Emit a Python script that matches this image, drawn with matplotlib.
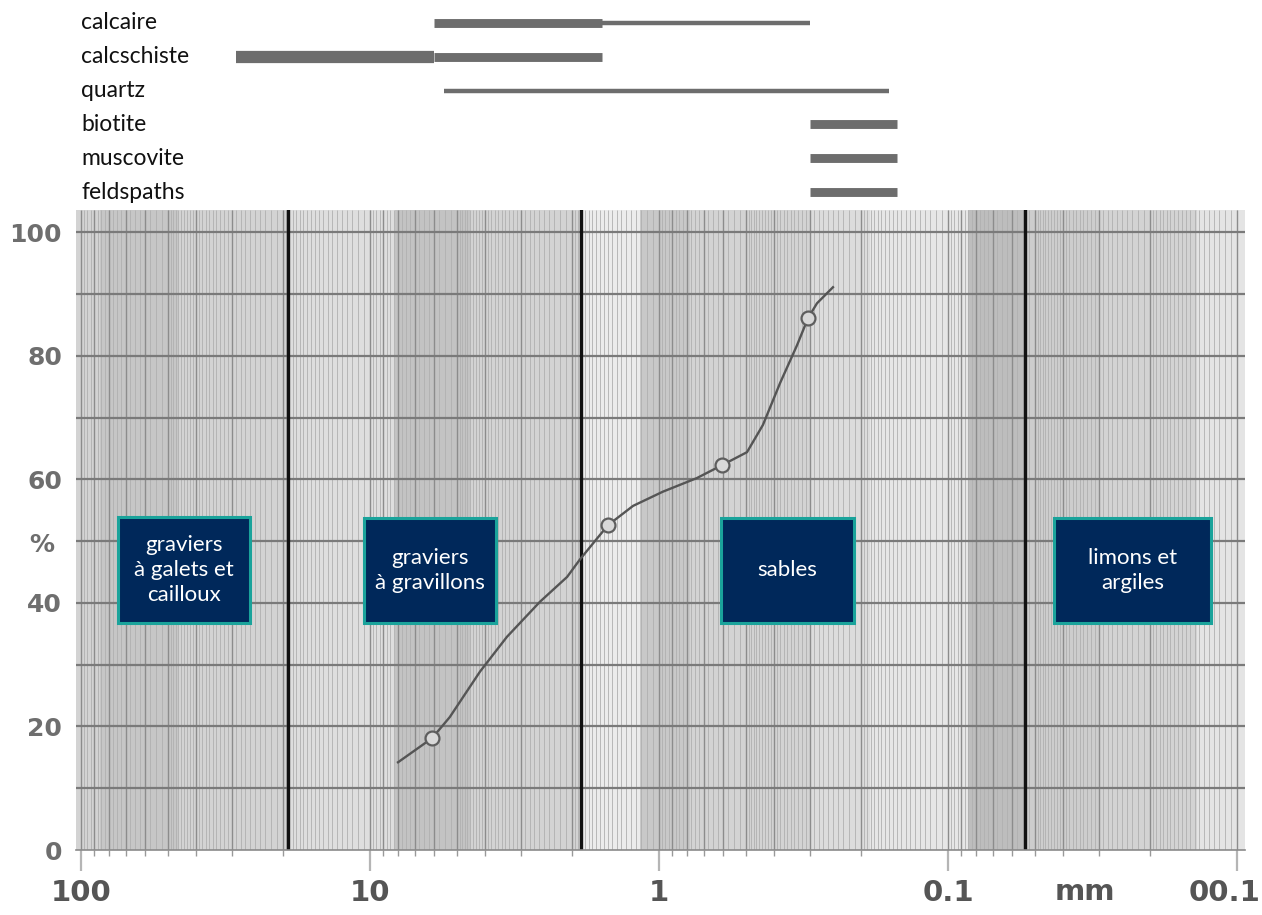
import numpy as np
import matplotlib.pyplot as plt
from matplotlib.patches import Rectangle
from matplotlib.transforms import ScaledTranslation

# grain size curve (mm, % passing)
size_mm = [8.0, 6.1, 5.3, 4.16, 3.36, 2.58, 2.08, 1.88, 1.64, 1.50, 1.23,
           0.97, 0.74, 0.605, 0.496, 0.437, 0.381, 0.333, 0.305, 0.284, 0.25]
passing = [14.2, 18.1, 21.5, 28.9, 34.5, 40.2, 44.2, 47.0, 50.4, 52.6, 55.7,
           58.0, 60.2, 62.3, 64.4, 68.8, 75.6, 81.7, 86.1, 88.5, 91.1]
sample_mm = [6.1, 1.50, 0.605, 0.305]
sample_pct = [18.1, 52.6, 62.3, 86.1]

# class limits (mm, as drawn on the sheet) and class names
limits_mm = [19.2, 1.86, 0.054]
zones = ['graviers\nà galets et\ncailloux', 'graviers\nà gravillons', 'sables',
         'limons et\nargiles']

# minerals found in each size range
minerals = ['calcaire', 'calcschiste', 'quartz', 'biotite', 'muscovite', 'feldspaths']
seg_mineral = ['calcaire', 'calcaire', 'calcschiste', 'calcschiste', 'quartz',
               'biotite', 'muscovite', 'feldspaths']
seg_from = [6.0, 1.57, 29.0, 6.0, 5.55, 0.30, 0.30, 0.30]
seg_to = [1.57, 0.30, 6.0, 1.57, 0.16, 0.15, 0.15, 0.15]
seg_level = ['common', 'trace', 'abundant', 'common', 'trace', 'common', 'common', 'common']

xticks = [100, 10, 1, 0.1, 0.01]
xticklabels = ['100', '10', '1', '0.1', '00.1']
yticks = [0, 20, 40, 60, 80, 100]

W, H = 1262, 915
fig = plt.figure(figsize=(W / 100, H / 100), dpi=100)
plt.rcParams['font.family'] = ['Lato', 'DejaVu Sans']

xlim = (104.1, 0.00938)
ax = fig.add_axes([76 / W, 65 / H, 1169 / W, 640 / H])
ax.set_xscale('log')
ax.set_xlim(*xlim)
ax.set_ylim(0, 103.6)
ax.set_facecolor('#d3d3d3')

# --- fake log paper background ---
bands = [(86, 46, '#c6c6c6'), (19, 8.2, '#dedede'), (8.2, 4.5, '#c3c3c3'),
         (1.88, 1.16, '#ececec'), (1.16, 0.78, '#c8c8c8'), (0.30, 0.186, '#dcdcdc'),
         (0.186, 0.085, '#e6e6e6'), (0.085, 0.054, '#bdbdbd'),
         (0.054, 0.030, '#cdcdcd'), (0.0137, 0.0094, '#e4e4e4')]
for a, b, c in bands:
    ax.axvspan(a, b, color=c, lw=0, zorder=0)

fine = []
for d in [-2, -1, 0, 1]:
    base = 10.0 ** d
    fine += list(base * np.arange(1.0, 2.0, 0.05))
    fine += list(base * np.arange(2.0, 5.0, 0.1))
    fine += list(base * np.arange(5.0, 10.0, 0.25))
ax.vlines(fine, 0, 103.6, color='#b0b0b0', lw=0.6, zorder=1)
major_v = [m * 10.0 ** d for d in [-2, -1, 0, 1] for m in range(1, 10)] + [100]
ax.vlines(major_v, 0, 103.6, color='#8c8c8c', lw=1.0, zorder=1)
ax.hlines(np.arange(10, 101, 10), *xlim, color='#7a7a7a', lw=1.6, zorder=1)

# class limits
for lim in limits_mm:
    ax.axvline(lim, ymin=0, ymax=1, color='#111111', lw=2.4, zorder=2)

# grain size curve
ax.plot(size_mm, passing, color='#555555', lw=1.7, zorder=3)
ax.plot(sample_mm, sample_pct, 'o', ms=10, mfc='#d8d8d8', mec='#5e5e5e', mew=1.6, zorder=4)

# axes styling
for s in ['top', 'right', 'left']:
    ax.spines[s].set_visible(False)
ax.spines['bottom'].set_color('#8a8a8a')
ax.spines['bottom'].set_linewidth(1.2)
ax.set_xticks(xticks)
ax.set_xticklabels(xticklabels, fontsize=21, fontweight='bold', color='#555555',
                   family='DejaVu Sans')
ax.xaxis.set_minor_locator(plt.matplotlib.ticker.LogLocator(base=10, subs=np.arange(2, 10)))
ax.xaxis.set_minor_formatter(plt.NullFormatter())
ax.tick_params(axis='x', which='major', length=15, width=1.6, color='#b5b5b5', pad=6)
ax.tick_params(axis='x', which='minor', length=4, width=1.0, color='#999999')
# last label sits against the right edge of the sheet
last = ax.get_xticklabels()[-1]
last.set_transform(last.get_transform() + ScaledTranslation(-12 / 100, 0, fig.dpi_scale_trans))
ax.set_yticks(yticks)
ax.set_yticklabels([str(v) for v in yticks], fontsize=18, fontweight='bold',
                   color='#6e6e6e', family='DejaVu Sans')
ax.tick_params(axis='y', length=0, pad=10)
fig.text(42 / W, 1 - 545 / H, '%', fontsize=18, fontweight='bold', color='#6e6e6e',
         family='DejaVu Sans', ha='center', va='center')
ax.text(0.863, -0.066, 'mm', transform=ax.transAxes, fontsize=21, fontweight='bold',
        color='#555555', family='DejaVu Sans', ha='center', va='center')

# zone boxes (pixel layout)
boxes = [(118, 517, 132, 106), (364, 518, 132, 105), (721, 518, 133, 105), (1054, 518, 157, 105)]
for (bx, by, bw, bh), name in zip(boxes, zones):
    fig.add_artist(Rectangle((bx / W, 1 - (by + bh) / H), bw / W, bh / H,
                             transform=fig.transFigure, fc='#00285a', ec='#1aa39b',
                             lw=2.2, zorder=10))
    fig.text((bx + bw / 2) / W, 1 - (by + bh / 2) / H, name, color='white', fontsize=16,
             ha='center', va='center', linespacing=1.3, zorder=11)

# --- mineral ranges on top ---
axt = fig.add_axes([76 / W, 705 / H, 1169 / W, 210 / H])
axt.set_xscale('log')
axt.set_xlim(*xlim)
axt.set_ylim(5.53, -0.68)
axt.axis('off')
widths = {'trace': 3.2, 'common': 6.4, 'abundant': 8.8}
for m, a, b, lev in zip(seg_mineral, seg_from, seg_to, seg_level):
    row = minerals.index(m)
    axt.hlines(row, a, b, color='#6d6d6d', lw=widths[lev], capstyle='butt')
for i, m in enumerate(minerals):
    axt.text(100, i, m, fontsize=16.5, color='#111111', ha='left', va='center')

fig.savefig('out.png', dpi=100)
